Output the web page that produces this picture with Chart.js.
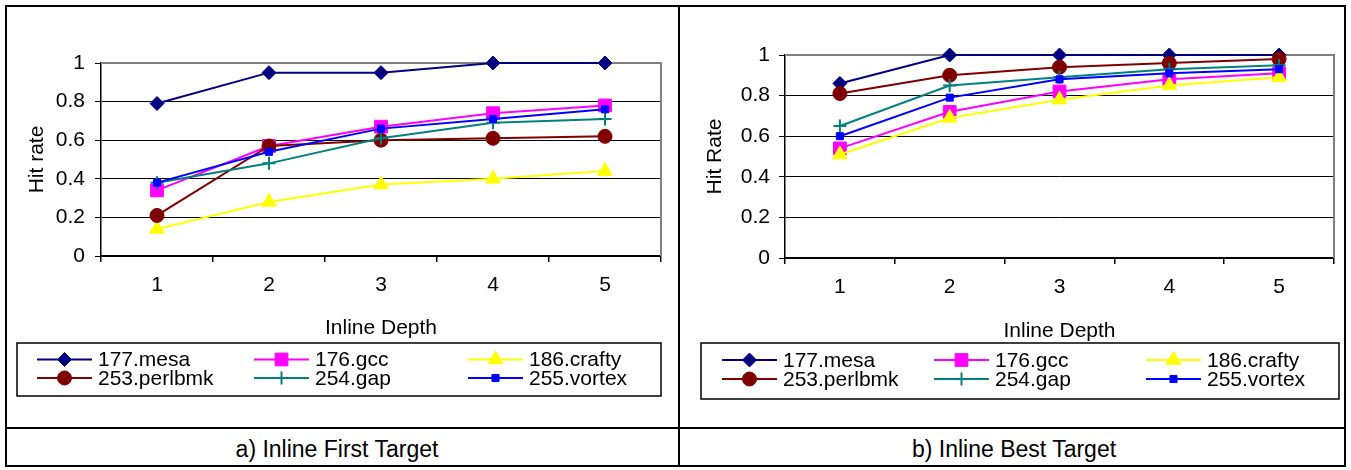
<!DOCTYPE html>
<html><head><meta charset="utf-8">
<script src="https://cdn.jsdelivr.net/npm/chart.js@4/dist/chart.umd.min.js"></script>
<style>
html,body{margin:0;padding:0;background:#fff;}
body{width:1351px;height:470px;position:relative;overflow:hidden;font-family:'Liberation Sans',Arial,sans-serif;}
.frame{position:absolute;left:5px;top:5px;width:1341px;height:462px;border:2px solid #000;box-sizing:border-box;}
.vdiv{position:absolute;left:678px;top:5px;width:2px;height:462px;background:#000;}
.hdiv{position:absolute;left:5px;top:427px;width:1341px;height:2px;background:#000;}
canvas{position:absolute;}
#c1{left:7px;top:7px;}
#c2{left:681px;top:7px;}
.cap{position:absolute;top:435px;font-size:23px;line-height:28px;color:#000;transform:translateX(-50%);white-space:nowrap;}
</style></head>
<body>
<div class="frame"></div><div class="vdiv"></div><div class="hdiv"></div>
<canvas id="c1" width="671" height="420"></canvas>
<canvas id="c2" width="663" height="420"></canvas>
<div class="cap" style="left:337px">a) Inline First Target</div>
<div class="cap" style="left:1014px">b) Inline Best Target</div>
<script>
// ---- data ----
const categories = ['1', '2', '3', '4', '5'];
const seriesNames = ['177.mesa', '176.gcc', '186.crafty', '253.perlbmk', '254.gap', '255.vortex'];
const yTickValues = [0, 0.2, 0.4, 0.6, 0.8, 1];

// a) Inline First Target
const firstMesa     = [0.79, 0.95, 0.95, 1.00, 1.00];
const firstGcc      = [0.34, 0.57, 0.67, 0.74, 0.78];
const firstCrafty   = [0.14, 0.28, 0.37, 0.40, 0.44];
const firstPerlbmk  = [0.21, 0.57, 0.60, 0.61, 0.62];
const firstGap      = [0.38, 0.48, 0.61, 0.69, 0.71];
const firstVortex   = [0.38, 0.54, 0.66, 0.71, 0.76];

// b) Inline Best Target
const bestMesa      = [0.86, 1.00, 1.00, 1.00, 1.00];
const bestGcc       = [0.54, 0.72, 0.82, 0.88, 0.91];
const bestCrafty    = [0.51, 0.69, 0.78, 0.85, 0.89];
const bestPerlbmk   = [0.81, 0.90, 0.94, 0.96, 0.98];
const bestGap       = [0.65, 0.85, 0.89, 0.93, 0.95];
const bestVortex    = [0.60, 0.79, 0.88, 0.91, 0.93];

// ---- styles ----
const seriesStyles = [
  {color: '#000080', pointStyle: 'rectRot', radius: 7, pbw: 1},
  {color: '#FF00FF', pointStyle: 'rect', radius: 9, pbw: 1},
  {color: '#FFFF00', pointStyle: 'triangle', radius: 8.5, pbw: 1},
  {color: '#800000', pointStyle: 'circle', radius: 7, pbw: 1},
  {color: '#008080', pointStyle: 'cross', radius: 6.5, pbw: 2},
  {color: '#0000FF', pointStyle: 'rect', radius: 5, pbw: 1}
];
const FONT = "'Liberation Sans', Arial, sans-serif";
const FS = 21;
Chart.defaults.font.family = FONT;
Chart.defaults.color = '#000';

const plotBorder = {
  id: 'plotBorder',
  beforeDatasetsDraw(chart) {
    const {ctx, chartArea: a} = chart;
    ctx.save();
    ctx.strokeStyle = '#808080';
    ctx.lineWidth = 2;
    ctx.beginPath();
    ctx.moveTo(a.left, a.top);
    ctx.lineTo(a.right, a.top);
    ctx.lineTo(a.right, a.bottom);
    ctx.stroke();
    ctx.restore();
  }
};

const boxLegend = {
  id: 'boxLegend',
  afterDraw(chart, args, o) {
    const ctx = chart.ctx;
    ctx.save();
    ctx.strokeStyle = '#000';
    ctx.lineWidth = 1.5;
    ctx.strokeRect(o.x, o.y, o.w, o.h);
    ctx.font = FS + 'px ' + FONT;
    ctx.textBaseline = 'middle';
    ctx.textAlign = 'left';
    chart.data.datasets.forEach((ds, i) => {
      const col = i % 3, row = Math.floor(i / 3);
      const x0 = o.cols[col], y = o.rows[row], x1 = x0 + o.lineLen;
      ctx.strokeStyle = ds.borderColor;
      ctx.lineWidth = ds.borderWidth;
      ctx.beginPath(); ctx.moveTo(x0, y); ctx.lineTo(x1, y); ctx.stroke();
      ctx.fillStyle = ds.pointBackgroundColor;
      ctx.strokeStyle = ds.pointBorderColor;
      ctx.lineWidth = ds.pointBorderWidth;
      Chart.helpers.drawPoint(ctx, {pointStyle: ds.pointStyle, radius: ds.pointRadius,
        borderWidth: ds.pointBorderWidth, rotation: 0}, (x0 + x1) / 2, y);
      ctx.fillStyle = '#000';
      ctx.fillText(ds.label, x1 + o.gap, y + 1);
    });
    ctx.restore();
  }
};

function makeChart(id, seriesData, L) {
  const n = seriesData.length;
  const datasets = seriesData.map((vals, i) => {
    const s = seriesStyles[i];
    return {
      label: seriesNames[i], data: vals,
      borderColor: s.color, backgroundColor: s.color, borderWidth: 2,
      pointStyle: s.pointStyle, pointRadius: s.radius, pointHoverRadius: s.radius,
      pointBackgroundColor: s.color, pointBorderColor: s.color, pointBorderWidth: s.pbw,
      fill: false, tension: 0, clip: false, order: n - 1 - i
    };
  });
  return new Chart(document.getElementById(id), {
    type: 'line',
    data: {labels: categories, datasets},
    plugins: [plotBorder, boxLegend],
    options: {
      responsive: false, animation: false, devicePixelRatio: 1,
      events: [],
      layout: {padding: {left: L.padL, right: L.padR, top: L.padT, bottom: L.padB}},
      plugins: {
        legend: {display: false}, tooltip: {enabled: false},
        boxLegend: L.legend
      },
      scales: {
        x: {
          type: 'category', offset: true,
          grid: {display: true, drawOnChartArea: false, drawTicks: true, tickLength: 6,
                 offset: true, color: '#000', lineWidth: 1.5},
          border: {display: true, color: '#000', width: 1.5},
          ticks: {color: '#000', font: {size: FS}, padding: L.xPad, maxRotation: 0, autoSkip: false},
          title: {display: true, text: 'Inline Depth', color: '#000', font: {size: FS},
                  padding: {top: 4, bottom: 4}},
          afterFit(s) { s.height = L.xH; }
        },
        y: {
          min: 0, max: 1,
          afterBuildTicks(s) { s.ticks = yTickValues.map(v => ({value: v})); },
          grid: {color: '#000', lineWidth: 1, tickLength: 6, drawTicks: true, tickColor: '#000'},
          border: {display: true, color: '#000', width: 1.5},
          ticks: {color: '#000', font: {size: FS}, padding: L.yPad, callback: v => String(v)},
          title: {display: true, text: L.yTitle, color: '#000', font: {size: FS},
                  padding: {top: 4, bottom: 4}},
          afterFit(s) { s.width = L.yW; }
        }
      }
    }
  });
}

makeChart('c1',
  [firstMesa, firstGcc, firstCrafty, firstPerlbmk, firstGap, firstVortex],
  {padL: 14, yW: 80, padR: 17, padT: 56, padB: 82, xH: 89, xPad: 11, yPad: 10,
   yTitle: 'Hit rate',
   legend: {x: 10, y: 336, w: 644, h: 53, cols: [30, 247, 461], rows: [352.5, 371],
            lineLen: 55, gap: 6}});

makeChart('c2',
  [bestMesa, bestGcc, bestCrafty, bestPerlbmk, bestGap, bestVortex],
  {padL: 18, yW: 86, padR: 4, padT: 48, padB: 79, xH: 90, xPad: 11, yPad: 9,
   yTitle: 'Hit Rate',
   legend: {x: 20, y: 336, w: 638, h: 56, cols: [41, 253, 465], rows: [353, 372],
            lineLen: 55, gap: 6}});
</script>
</body></html>
